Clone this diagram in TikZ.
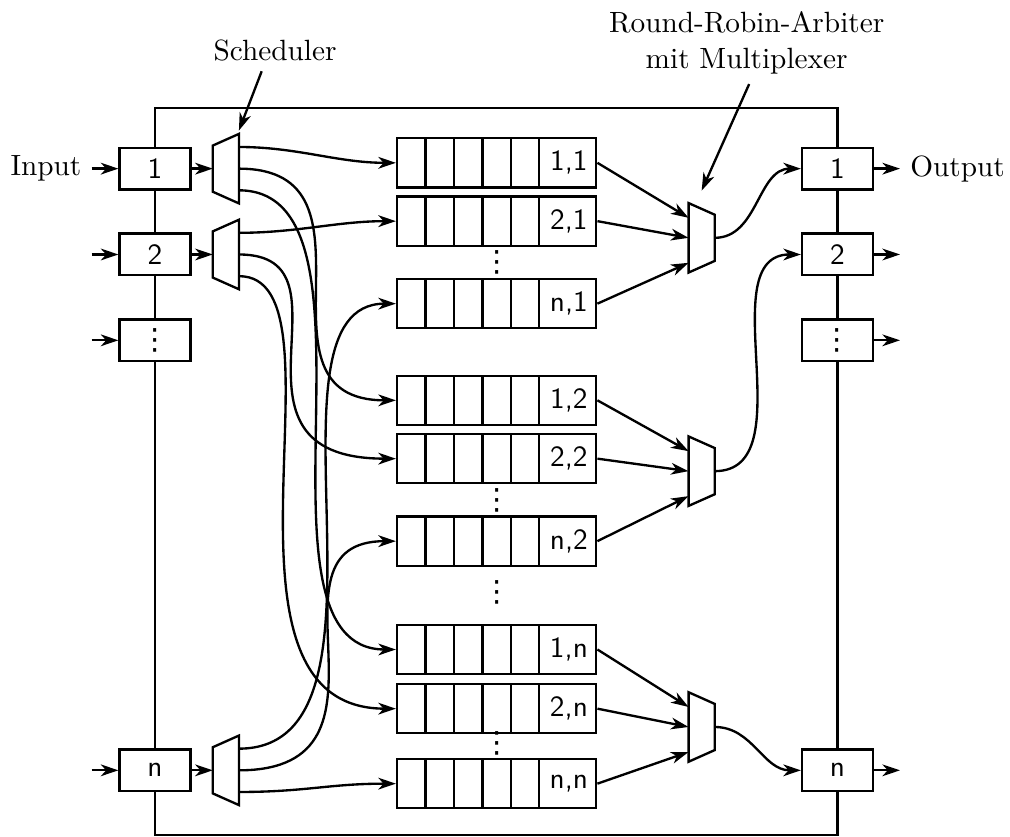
\documentclass[tikz,border=0pt]{standalone}
\usepackage{fontspec}
\newfontfamily\symfont{DejaVu Sans}
\usetikzlibrary{arrows.meta, positioning, calc}
\newcommand{\vdts}{{\symfont ⋮}}

\begin{document}
\begin{tikzpicture}[
  >={Stealth[length=6pt, width=4pt, inset=1.8pt]},
  port/.style={draw, thick, fill=white, minimum width=8.5mm, minimum height=5mm,
    font=\sffamily, inner sep=0pt},
  sched/.style={minimum width=3mm, minimum height=8.2mm, inner sep=0pt},
  qlabel/.style={font=\sffamily, anchor=center, xshift=-3.42mm},
  queue/.style={draw, thick, minimum width=23.9mm, minimum height=5.9mm, inner sep=0pt,
    path picture={\foreach \k in {1,...,5}
      \draw[thick] ([xshift=\k*3.41mm]path picture bounding box.south west)
        -- ([xshift=\k*3.41mm]path picture bounding box.north west);},
    label={[qlabel]0:#1}},
  dots/.style={inner sep=0pt},
  arr/.style={->, thick},
]

\useasboundingbox (0,0) rectangle (12.12,10.044);

% Switch frame
\draw[thick] (1.86,0.024) rectangle (10.05,8.75);

% === Input ports ===
\node[port] (in1) at (1.86,8.02) {1};
\node[port] (in2) at (1.86,6.99) {2};
\node[port] (in3) at (1.86,5.96) {\vdts};
\node[port] (inn) at (1.86,0.80) {n};

\node[anchor=east] (input) at (1.10,8.02) {Input};
\coordinate (a2) at (1.10,6.99);
\coordinate (a3) at (1.10,5.96);
\coordinate (an) at (1.10,0.80);

\draw[arr] (input.east) -- (in1.west);
\draw[arr] (a2) -- (in2.west);
\draw[arr] (a3) -- (in3.west);
\draw[arr] (an) -- (inn.west);

% === Schedulers (demux) ===
\node[sched] (dm1) at (2.71,8.02) {};
\node[sched] (dm2) at (2.71,6.99) {};
\node[sched] (dmn) at (2.71,0.80) {};
\foreach \s in {dm1,dm2,dmn}
  \draw[thick] (\s.north east) -- (\s.south east) -- ([yshift=1.4mm]\s.south west)
    -- ([yshift=-1.4mm]\s.north west) -- cycle;

\draw[arr] (in1.east) -- (dm1.west);
\draw[arr] (in2.east) -- (dm2.west);
\draw[arr] (inn.east) -- (dmn.west);

% === Queues ===
\node[queue={1,1}] (q11) at (5.96,8.09) {};
\node[queue={2,1}] (q21) at (5.96,7.39) {};
\node[queue={n,1}] (qn1) at (5.96,6.40) {};
\node[queue={1,2}] (q12) at (5.96,5.24) {};
\node[queue={2,2}] (q22) at (5.96,4.54) {};
\node[queue={n,2}] (qn2) at (5.96,3.55) {};
\node[queue={1,n}] (q1n) at (5.96,2.25) {};
\node[queue={2,n}] (q2n) at (5.96,1.54) {};
\node[queue={n,n}] (qnn) at (5.96,0.64) {};

\node[dots] (d1) at (5.96,6.90) {\vdts};
\node[dots] (d2) at (5.96,4.04) {\vdts};
\node[dots] (d3) at (5.96,1.12) {\vdts};
\node[dots] (dg) at (5.96,2.94) {\vdts};

% === Scheduler -> queues ===
\draw[arr] ([yshift=2.6mm]dm1.east) .. controls +(0.7,0) and +(-0.7,0) .. (q11.west);
\draw[arr] (dm1.east) .. controls +(1.85,0) and +(-1.85,0) .. (q12.west);
\draw[arr] ([yshift=-2.6mm]dm1.east) .. controls +(1.9,0) and +(-1.9,0) .. (q1n.west);

\draw[arr] ([yshift=2.6mm]dm2.east) .. controls +(0.7,0) and +(-0.7,0) .. (q21.west);
\draw[arr] (dm2.east) .. controls +(1.5,0) and +(-2.3,0) .. (q22.west);
\draw[arr] ([yshift=-2.6mm]dm2.east) .. controls +(1.4,0) and +(-2.45,0) .. (q2n.west);

\draw[arr] ([yshift=2.6mm]dmn.east) .. controls +(2.1,0) and +(-1.75,0) .. (qn1.west);
\draw[arr] (dmn.east) .. controls +(2.1,0) and +(-1.7,0) .. (qn2.west);
\draw[arr] ([yshift=-2.6mm]dmn.east) .. controls +(0.8,0) and +(-0.8,0) .. (qnn.west);

% === Arbiters (mux) ===
\node[sched] (mx1) at (8.42,7.19) {};
\node[sched] (mx2) at (8.42,4.39) {};
\node[sched] (mx3) at (8.42,1.32) {};
\foreach \m in {mx1,mx2,mx3}
  \draw[thick] (\m.north west) -- (\m.south west) -- ([yshift=1.4mm]\m.south east)
    -- ([yshift=-1.4mm]\m.north east) -- cycle;

\draw[arr] (q11.east) -- ([yshift=2.4mm]mx1.west);
\draw[arr] (q21.east) -- (mx1.west);
\draw[arr] (qn1.east) -- ([yshift=-3mm]mx1.west);

\draw[arr] (q12.east) -- ([yshift=2.4mm]mx2.west);
\draw[arr] (q22.east) -- (mx2.west);
\draw[arr] (qn2.east) -- ([yshift=-3mm]mx2.west);

\draw[arr] (q1n.east) -- ([yshift=2.4mm]mx3.west);
\draw[arr] (q2n.east) -- (mx3.west);
\draw[arr] (qnn.east) -- ([yshift=-3mm]mx3.west);

% === Output ports ===
\node[port] (out1) at (10.05,8.02) {1};
\node[port] (out2) at (10.05,6.99) {2};
\node[port] (out3) at (10.05,5.96) {\vdts};
\node[port] (outn) at (10.05,0.80) {n};

\draw[arr] (mx1.east) to[out=0, in=180] (out1.west);
\draw[arr] (mx2.east) to[out=0, in=180] (out2.west);
\draw[arr] (mx3.east) to[out=0, in=180] (outn.west);

\node[anchor=west] (output) at (10.80,8.02) {Output};
\coordinate (b2) at (10.80,6.99);
\coordinate (b3) at (10.80,5.96);
\coordinate (bn) at (10.80,0.80);

\draw[arr] (out1.east) -- (output.west);
\draw[arr] (out2.east) -- (b2);
\draw[arr] (out3.east) -- (b3);
\draw[arr] (outn.east) -- (bn);

% === Annotations ===
\node (sched) at (3.30,9.44) {Scheduler};
\draw[arr] ([xshift=-1.6mm]sched.south) -- ([yshift=0.4mm]dm1.north east);

\node[align=center] (arb) at (8.96,9.53) {Round-Robin-Arbiter\\mit Multiplexer};
\draw[arr] ([xshift=0.3mm]arb.south) -- ([yshift=1.5mm]mx1.north);

\end{tikzpicture}
\end{document}
